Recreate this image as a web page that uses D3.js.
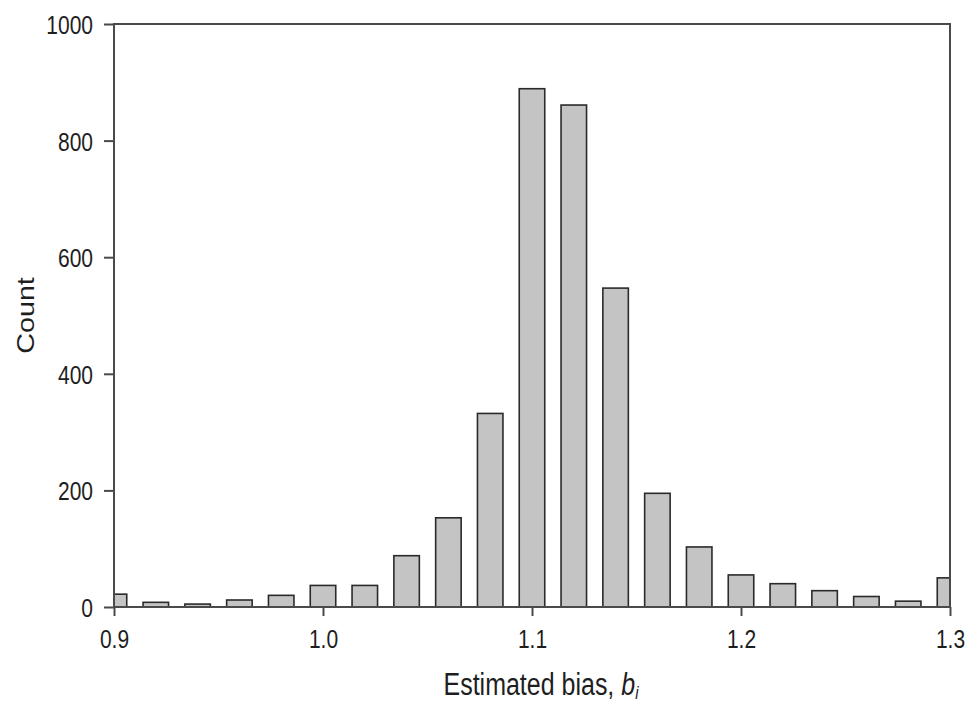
<!DOCTYPE html>
<html>
<head>
<meta charset="utf-8">
<script src="https://cdn.jsdelivr.net/npm/d3@7"></script>
<style>
  html, body { margin: 0; padding: 0; background: #fff; }
  svg { display: block; font-family: Arial, "Liberation Sans", sans-serif; }
</style>
</head>
<body>
<svg id="chart" width="968" height="707"></svg>
<script>
// Histogram bins (centre of each bin) and counts
const binCenters = [0.90, 0.92, 0.94, 0.96, 0.98, 1.00, 1.02, 1.04, 1.06, 1.08, 1.10,
                    1.12, 1.14, 1.16, 1.18, 1.20, 1.22, 1.24, 1.26, 1.28, 1.30];
const counts = [22, 8, 5, 12, 20, 37, 37, 88, 153, 332, 889,
                861, 547, 195, 103, 55, 40, 28, 18, 10, 50];
const xTicks = [0.9, 1.0, 1.1, 1.2, 1.3];
const yTicks = [0, 200, 400, 600, 800, 1000];
const binWidth = 0.02;

const FONT = "Arial, 'Liberation Sans', sans-serif";
const TEXT_COLOR = "#1e1e1e";
const STRETCH = 1.25; // text is drawn taller than wide

const svg = d3.select("#chart");
const margin = { left: 114, right: 18, top: 24, bottom: 100 };
const W = 968, H = 707;
const x = d3.scaleLinear().domain([0.9, 1.3]).range([margin.left, W - margin.right]);
const y = d3.scaleLinear().domain([0, 1000]).range([H - margin.bottom, margin.top]);

svg.append("clipPath").attr("id", "plotClip")
  .append("rect")
  .attr("x", x(0.9)).attr("y", y(1000))
  .attr("width", x(1.3) - x(0.9)).attr("height", y(0) - y(1000));

// Bars: about 60% of the bin width, centred on each bin value
const barW = (x(0.9 + binWidth) - x(0.9)) * 0.61;
svg.append("g").attr("clip-path", "url(#plotClip)")
  .selectAll("rect").data(binCenters).join("rect")
  .attr("x", (d) => x(d) - barW / 2)
  .attr("y", (d, i) => y(counts[i]))
  .attr("width", barW)
  .attr("height", (d, i) => y(0) - y(counts[i]))
  .attr("fill", "#c4c4c4")
  .attr("stroke", "#2a2a2a")
  .attr("stroke-width", 1.6);

// Frame
const axisColor = "#4a4a4a";
svg.append("rect")
  .attr("x", x(0.9)).attr("y", y(1000))
  .attr("width", x(1.3) - x(0.9)).attr("height", y(0) - y(1000))
  .attr("fill", "none").attr("stroke", axisColor).attr("stroke-width", 2);

// Y axis: ticks from d3, labels placed with a vertical stretch
const gy = svg.append("g").attr("transform", `translate(${x(0.9)},0)`)
  .call(d3.axisLeft(y).tickValues(yTicks).tickSize(10).tickFormat(d3.format("d")));
gy.select(".domain").remove();
gy.selectAll(".tick line").attr("stroke", axisColor).attr("stroke-width", 2);
gy.selectAll(".tick text").remove();
gy.selectAll(".tick").append("text")
  .attr("transform", `translate(-21,0) scale(1,${STRETCH})`)
  .attr("dy", "0.36em")
  .attr("text-anchor", "end")
  .attr("font-size", 21).attr("font-family", FONT).attr("fill", TEXT_COLOR)
  .text(d3.format("d"));

// X axis
const gx = svg.append("g").attr("transform", `translate(0,${y(0)})`)
  .call(d3.axisBottom(x).tickValues(xTicks).tickSize(9).tickFormat(d3.format(".1f")));
gx.select(".domain").remove();
gx.selectAll(".tick line").attr("stroke", axisColor).attr("stroke-width", 2);
gx.selectAll(".tick text").remove();
gx.selectAll(".tick").append("text")
  .attr("transform", `translate(0,41) scale(1,${STRETCH})`)
  .attr("text-anchor", "middle")
  .attr("font-size", 21).attr("font-family", FONT).attr("fill", TEXT_COLOR)
  .text(d3.format(".1f"));

// Axis titles
const xt = svg.append("text")
  .attr("transform", `translate(${x(1.1) + 9},695) scale(1,${STRETCH})`)
  .attr("text-anchor", "middle").attr("font-size", 25)
  .attr("font-family", FONT).attr("fill", TEXT_COLOR);
xt.append("tspan").text("Estimated bias, ");
xt.append("tspan").attr("font-style", "italic").text("b");
xt.append("tspan").attr("font-style", "italic").attr("font-size", 15).attr("dy", 3).text("i");

svg.append("text")
  .attr("transform", `translate(34,${(y(0) + y(1000)) / 2}) scale(1,${STRETCH}) rotate(-90)`)
  .attr("text-anchor", "middle").attr("font-size", 23)
  .attr("font-family", FONT).attr("fill", TEXT_COLOR)
  .text("Count");
</script>
</body>
</html>
